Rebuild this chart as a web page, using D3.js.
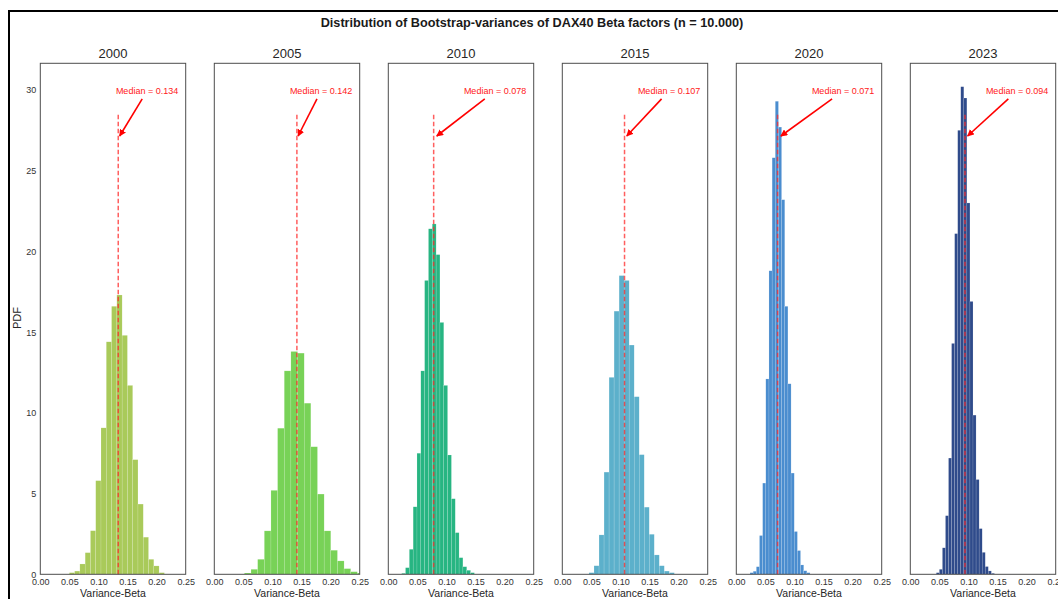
<!DOCTYPE html>
<html>
<head>
<meta charset="utf-8">
<script src="https://cdn.jsdelivr.net/npm/d3@7"></script>
<style>
body { margin:0; background:#fff; }
text { font-family: "Liberation Sans", Arial, sans-serif; }
</style>
</head>
<body>
<script>
// years shown, one panel each
var years = ["2000","2005","2010","2015","2020","2023"];
var medians = [0.134, 0.142, 0.078, 0.107, 0.071, 0.094];
var barColors = ["#a9ca5a","#78d257","#27b582","#5cb0cb","#4a8dcf","#2f4b8b"];

// histogram bins (left edge of first bin, bin width)
var binStart = [0.0499, 0.0517, 0.0230, 0.0459, 0.0236, 0.0447];
var binWidth = [0.00908, 0.01143, 0.00658, 0.00863, 0.00543, 0.00526];

// densities per bin
var dens2000 = [0.1,0.2,0.64,1.34,2.7,5.8,9.07,14.4,16.6,17.3,14.8,11.7,7.1,4.35,2.3,0.93,0.52,0.1];
var dens2005 = [0.08,0.31,0.93,2.69,5.2,9.05,12.6,13.8,13.7,10.6,7.9,4.97,2.69,1.49,0.83,0.35,0.16,0.08];
var dens2010 = [0.06,0.41,1.55,4.18,7.5,12.6,18.2,21.4,21.7,19.8,15.6,11.7,7.39,4.68,2.58,1.03,0.47,0.25,0.1];
var dens2015 = [0.1,0.53,2.44,6.33,12.2,16.3,18.5,18.2,14.2,11.0,7.41,4.16,2.48,1.2,0.53,0.2,0.1];
var dens2020 = [0.1,0.19,0.47,2.4,5.65,12.1,18.8,25.8,29.3,27.7,23.2,16.6,11.8,6.27,2.65,1.47,0.58,0.22,0.1];
var dens2023 = [0.1,0.31,1.64,3.63,7.2,14.3,21.1,27.5,30.2,29.5,23.0,16.9,9.86,5.87,2.83,1.36,0.48,0.21,0.06];
var allDens = [dens2000, dens2005, dens2010, dens2015, dens2020, dens2023];

var xTicks = [0, 0.05, 0.10, 0.15, 0.20, 0.25];
var yTicks = [0, 5, 10, 15, 20, 25, 30];

var W = 1058, H = 599;
var panelLeft = 40.3, panelStep = 174, panelW = 145.4;
var panelTop = 63.3, panelBottom = 574.3;

var svg = d3.select("body").append("svg")
            .attr("width", W)
            .attr("height", H);

svg.append("defs").append("marker")
   .attr("id","arrowhead")
   .attr("viewBox","0 0 10 10")
   .attr("refX", 9).attr("refY", 5)
   .attr("markerWidth", 7).attr("markerHeight", 7)
   .attr("markerUnits","userSpaceOnUse")
   .attr("orient","auto")
   .append("path").attr("d","M0,0 L10,5 L0,10 z").attr("fill","#ff0000");

// outer figure frame (cut off at right/bottom like the picture)
svg.append("rect")
   .attr("x", 9).attr("y", 11)
   .attr("width", W + 20).attr("height", H + 20)
   .attr("fill","none").attr("stroke","#000").attr("stroke-width", 2);

svg.append("text")
   .attr("x", 532).attr("y", 27)
   .attr("text-anchor","middle")
   .style("font-size","12.7px").style("font-weight","bold").style("fill","#1a1a1a")
   .text("Distribution of Bootstrap-variances of DAX40 Beta factors (n = 10.000)");

var y = d3.scaleLinear().domain([0, 31.65]).range([panelBottom, panelTop]);

for (var i = 0; i < years.length; i++) {
  var x0 = panelLeft + i * panelStep;
  var x = d3.scaleLinear().domain([0, 0.25]).range([x0, x0 + panelW]);

  svg.append("clipPath").attr("id","clip" + i)
     .append("rect").attr("x", x0).attr("y", panelTop).attr("width", panelW).attr("height", panelBottom - panelTop);

  var bins = allDens[i].map(function(d, k) {
    return { x0: binStart[i] + k * binWidth[i], x1: binStart[i] + (k + 1) * binWidth[i], v: d };
  });

  var g = svg.append("g").attr("clip-path","url(#clip" + i + ")");
  g.selectAll("rect.bar").data(bins).enter().append("rect")
   .attr("class","bar")
   .attr("x", function(d){ return x(d.x0); })
   .attr("width", function(d){ return x(d.x1) - x(d.x0); })
   .attr("y", function(d){ return y(d.v); })
   .attr("height", function(d){ return y(0) - y(d.v); })
   .attr("fill", barColors[i])
   .attr("stroke","#ffffff").attr("stroke-width", 0.4).attr("stroke-opacity", 0.35);

  // median line, 90% of the axis height
  svg.append("line")
     .attr("x1", x(medians[i])).attr("x2", x(medians[i]))
     .attr("y1", y(0)).attr("y2", y(31.65 * 0.9))
     .attr("stroke","#ff2a2a").attr("stroke-opacity", 0.75)
     .attr("stroke-width", 1.5).attr("stroke-dasharray","4.5,2.5");

  // annotation text + arrow
  var tx = x(0.1835), ty = y(30) + 1;
  var px = x(medians[i]), py = y(27);
  var vx = px - tx, vy = py - ty;
  var t0 = 6.5 / Math.abs(vy) + 0.03;
  var t1 = 0.95;
  svg.append("line")
     .attr("x1", tx + vx * t0).attr("y1", ty + vy * t0)
     .attr("x2", tx + vx * t1).attr("y2", ty + vy * t1)
     .attr("stroke","#ff0000").attr("stroke-width", 1.6)
     .attr("marker-end","url(#arrowhead)");
  svg.append("text")
     .attr("x", tx).attr("y", ty + 3)
     .attr("text-anchor","middle")
     .style("font-size","9px").style("fill","#ff2020")
     .text("Median = " + d3.format(".3f")(medians[i]));

  // frame
  svg.append("rect")
     .attr("x", x0).attr("y", panelTop)
     .attr("width", panelW).attr("height", panelBottom - panelTop)
     .attr("fill","none").attr("stroke","#4d4d4d").attr("stroke-width", 1);

  // subplot title
  svg.append("text")
     .attr("x", x0 + panelW / 2).attr("y", 58)
     .attr("text-anchor","middle")
     .style("font-size","13px").style("fill","#262626")
     .text(years[i]);

  // x axis
  var xa = svg.append("g").attr("transform","translate(0," + panelBottom + ")")
              .call(d3.axisBottom(x).tickValues(xTicks).tickSize(0).tickPadding(4).tickFormat(d3.format(".2f")));
  xa.select(".domain").remove();
  xa.selectAll("text").style("font-size","9px").style("fill","#333").style("font-family","Liberation Sans, Arial, sans-serif");

  svg.append("text")
     .attr("x", x0 + panelW / 2).attr("y", 597)
     .attr("text-anchor","middle")
     .style("font-size","10.5px").style("fill","#262626")
     .text("Variance-Beta");

  if (i == 0) {
    var ya = svg.append("g").attr("transform","translate(" + x0 + ",0)")
                .call(d3.axisLeft(y).tickValues(yTicks).tickSize(0).tickPadding(4));
    ya.select(".domain").remove();
    ya.selectAll("text").style("font-size","9px").style("fill","#333").style("font-family","Liberation Sans, Arial, sans-serif");

    svg.append("text")
       .attr("transform","translate(21,318) rotate(-90)")
       .attr("text-anchor","middle")
       .style("font-size","11px").style("fill","#262626")
       .text("PDF");
  }
}
</script>
</body>
</html>
